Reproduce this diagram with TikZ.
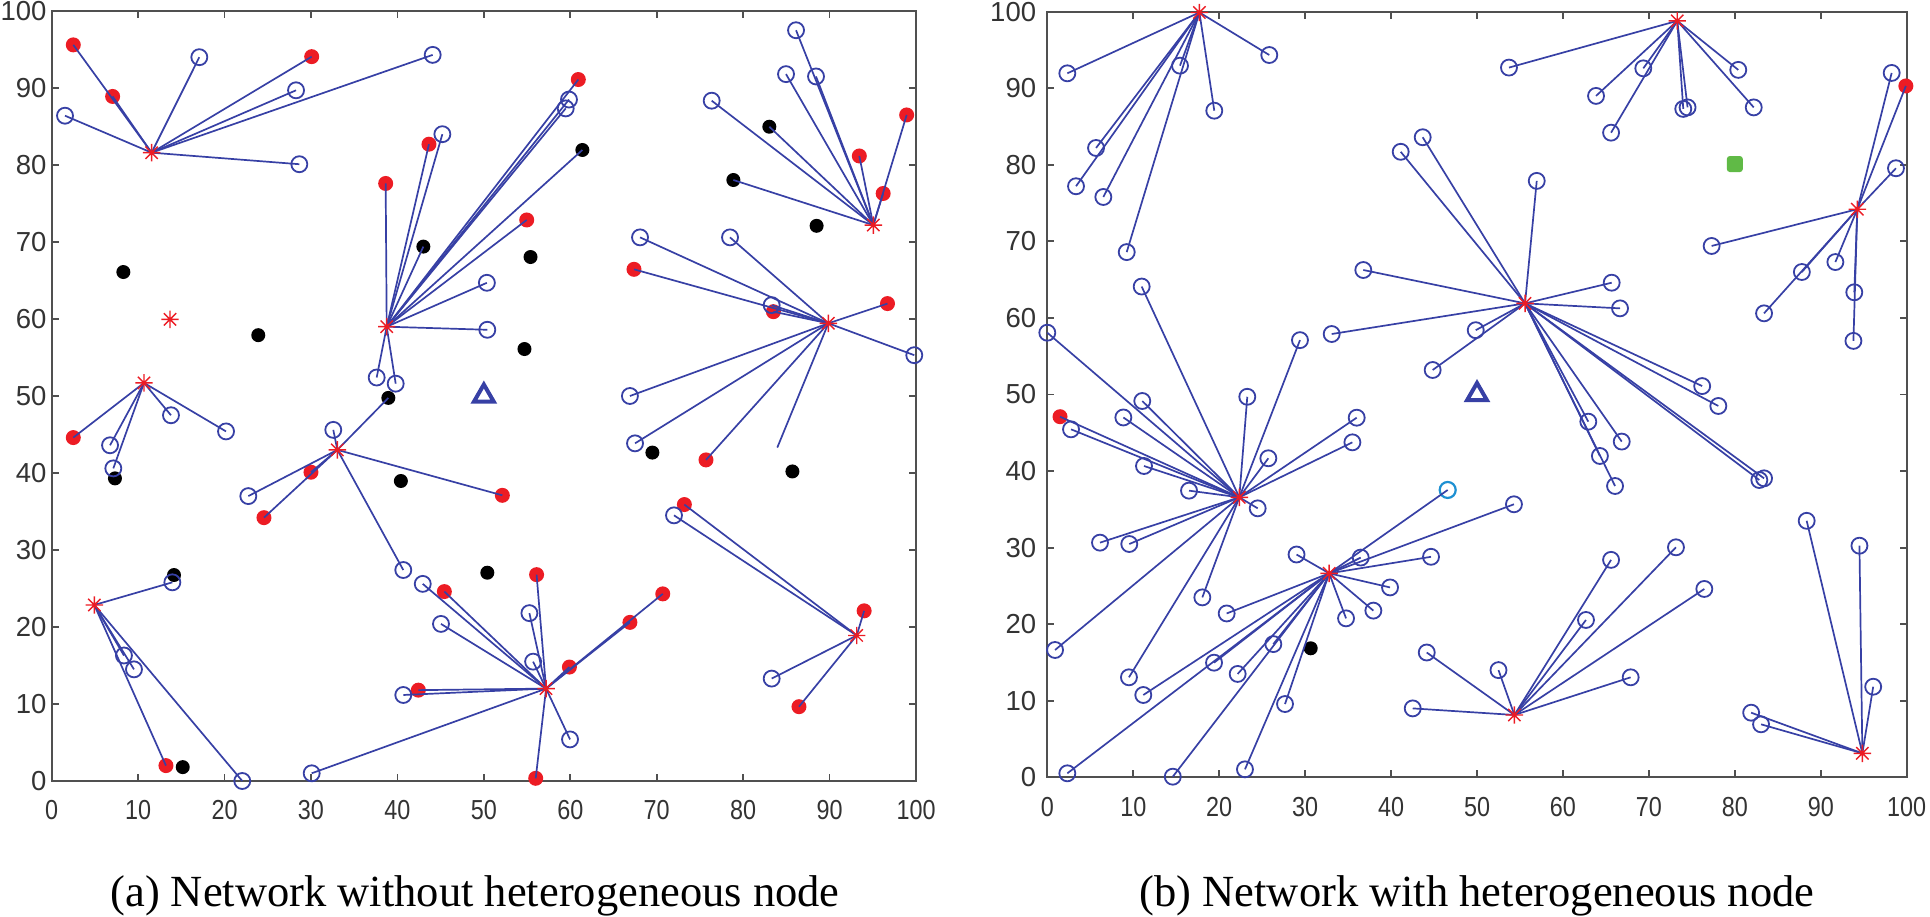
\documentclass[tikz,border=0pt]{standalone}
\usepackage{fontspec}
\setmainfont{Liberation Serif}
\newfontfamily\axfont{Liberation Sans}
\usetikzlibrary{shapes.geometric}
\definecolor{lnblue}{RGB}{55,64,165}
\definecolor{ptred}{RGB}{236,28,36}
\definecolor{gsqc}{RGB}{96,186,70}
\definecolor{lbluec}{RGB}{30,144,210}
\definecolor{axgray}{RGB}{80,80,80}
\newcommand\headmark[1]{\draw[hline] (#1.north)--(#1.south) (#1.east)--(#1.west) (#1.north east)--(#1.south west) (#1.north west)--(#1.south east);}
\newcommand\axesbox[2]{%
  \draw[frame] (0,0) rectangle (100,100);
  \foreach \t in {10,20,...,90} {
    \draw[frame] (\t,0) -- ++(0,7pt);
    \draw[frame] (\t,100) -- ++(0,-7pt);
    \draw[frame] (0,\t) -- ++(7pt,0);
    \draw[frame] (100,\t) -- ++(-7pt,0);
  }
  \foreach \t in {0,10,...,100} {
    \node[xlab] (#1x\t) at (\t,0) {\t};
    \node[ylab, xshift=-#2] (#1y\t) at (0,\t) {\t};
  }}
\begin{document}
\begin{tikzpicture}[x=1pt,y=1pt,
  link/.style={draw=lnblue, line width=1.7pt},
  ocirc/.style={circle, draw=lnblue, line width=1.8pt, minimum size=16pt, inner sep=0pt},
  rdot/.style={circle, fill=ptred, minimum size=15pt, inner sep=0pt},
  kdot/.style={circle, fill=black, minimum size=14pt, inner sep=0pt},
  hnode/.style={circle, minimum size=17pt, inner sep=0pt},
  hline/.style={draw=ptred, line width=1.4pt},
  trinode/.style={regular polygon, regular polygon sides=3, draw=lnblue, line width=4pt, minimum size=23pt, inner sep=0pt},
  gsq/.style={rectangle, fill=gsqc, minimum size=16pt, rounded corners=3pt, inner sep=0pt},
  lbc/.style={circle, draw=lbluec, line width=2.2pt, minimum size=16pt, inner sep=0pt},
  frame/.style={draw=axgray, line width=1.8pt},
  xlab/.style={font=\axfont\fontsize{27.5}{30}\selectfont, text=black!80, inner sep=0pt, yshift=-29.5pt, xscale=0.85},
  ylab/.style={font=\axfont\fontsize{27.5}{30}\selectfont, text=black!80, inner sep=0pt, anchor=east},
  captext/.style={font=\fontsize{44.5}{50}\selectfont, inner sep=0pt, anchor=base}
]
\useasboundingbox (0,0) rectangle (1930,916);

% ================= (a) =================
\begin{scope}[shift={(51.7pt,135pt)}, x=8.643pt, y=7.7pt]
\axesbox{a}{5pt}
% heads
\node[hnode] (aH1) at (11.56,81.6) {};
\node[hnode] (aH2) at (13.69,59.96) {};
\node[hnode] (aH3) at (10.68,51.7) {};
\node[hnode] (aH4) at (38.76,59.0) {};
\node[hnode] (aH5) at (95.06,72.2) {};
\node[hnode] (aH6) at (89.86,59.44) {};
\node[hnode] (aH7) at (33.05,43.0) {};
\node[hnode] (aH8) at (4.93,22.86) {};
\node[hnode] (aH9) at (57.2,12.0) {};
\node[hnode] (aH10) at (93.14,18.9) {};
% red dots
\foreach \n/\p in {1/{2.5,95.6},2/{7.05,88.9},3/{30.08,94.07},4/{38.64,77.6},5/{43.65,82.7},
  6/{60.93,91.1},7/{54.96,72.86},8/{98.92,86.5},9/{93.44,81.17},10/{96.2,76.3},
  11/{67.37,66.45},12/{83.5,60.95},13/{96.7,62.0},14/{75.7,41.7},15/{2.5,44.6},
  16/{30.0,40.1},17/{24.56,34.2},18/{52.14,37.1},19/{73.2,35.9},20/{94.0,22.1},
  21/{86.46,9.65},22/{45.43,24.6},23/{56.1,26.8},24/{70.7,24.3},25/{66.9,20.6},
  26/{59.9,14.8},27/{42.42,11.8},28/{56.0,0.35},29/{13.22,2.0}}
  \node[rdot] (ar\n) at (\p) {};
% black dots
\foreach \n/\p in {1/{8.29,66.1},2/{23.9,57.9},3/{43.0,69.4},4/{61.4,81.95},5/{55.4,68.05},
  6/{54.7,56.1},7/{38.95,49.75},8/{83.03,84.97},9/{78.87,78.05},10/{88.5,72.1},
  11/{7.32,39.3},12/{40.4,38.96},13/{69.5,42.65},14/{85.7,40.2},15/{14.15,26.75},
  16/{50.4,27.05},17/{15.16,1.8}}
  \node[kdot] (ak\n) at (\p) {};
% open circles
\foreach \n/\p in {1/{1.54,86.4},2/{17.08,94.0},3/{28.27,89.7},4/{44.08,94.3},5/{28.65,80.1},
  6/{45.2,84.0},7/{59.85,88.5},8/{59.47,87.35},9/{50.35,64.7},10/{50.4,58.6},
  11/{37.6,52.4},12/{39.8,51.6},13/{86.12,97.5},14/{84.96,91.8},15/{88.43,91.5},
  16/{76.36,88.35},17/{68.07,70.6},18/{78.48,70.6},19/{83.3,61.8},20/{99.8,55.3},
  21/{66.9,50.0},22/{67.49,43.85},23/{6.75,43.6},24/{7.13,40.6},25/{13.8,47.5},
  26/{20.17,45.4},27/{32.58,45.6},28/{22.75,37.0},29/{40.68,27.4},30/{72.0,34.5},
  31/{83.3,13.3},32/{13.96,25.8},33/{8.36,16.3},34/{9.52,14.5},35/{22.05,0.0},
  36/{42.93,25.6},37/{45.04,20.4},38/{40.68,11.17},39/{30.08,1.0},40/{55.27,21.8},
  41/{55.7,15.5},42/{59.97,5.4}}
  \node[ocirc] (ao\n) at (\p) {};
\coordinate (aend) at (83.95,43.3);
\node[trinode] (atri) at (50,50) {};
% links
\foreach \t in {ar1,ar2,ar3,ao1,ao2,ao3,ao4,ao5} \draw[link] (aH1.center) -- (\t.center);
\foreach \t in {ar15,ao23,ao24,ao25,ao26} \draw[link] (aH3.center) -- (\t.center);
\foreach \t in {ar4,ar5,ar6,ar7,ak3,ak4,ao6,ao7,ao8,ao9,ao10,ao11,ao12} \draw[link] (aH4.center) -- (\t.center);
\foreach \t in {ar8,ar9,ar10,ak8,ak9,ao13,ao14,ao15,ao16} \draw[link] (aH5.center) -- (\t.center);
\foreach \t in {ar11,ar12,ar13,ar14,ao17,ao18,ao19,ao20,ao21,ao22} \draw[link] (aH6.center) -- (\t.center);
\draw[link] (aH6.center) -- (aend);
\foreach \t in {ar16,ar17,ar18,ak7,ao27,ao28,ao29} \draw[link] (aH7.center) -- (\t.center);
\foreach \t in {ar29,ao32,ao33,ao34,ao35} \draw[link] (aH8.center) -- (\t.center);
\foreach \t in {ar22,ar23,ar24,ar25,ar26,ar27,ar28,ao36,ao37,ao38,ao39,ao40,ao41,ao42} \draw[link] (aH9.center) -- (\t.center);
\foreach \t in {ar19,ar20,ar21,ao30,ao31} \draw[link] (aH10.center) -- (\t.center);
\foreach \h in {aH1,aH2,aH3,aH4,aH5,aH6,aH7,aH8,aH9,aH10} {\headmark{\h}}
\end{scope}

% ================= (b) =================
\begin{scope}[shift={(1047.3pt,138.7pt)}, x=8.594pt, y=7.656pt]
\axesbox{b}{11pt}
\node[hnode] (bH1) at (17.7,99.9) {};
\node[hnode] (bH2) at (73.3,98.8) {};
\node[hnode] (bH3) at (94.25,74.2) {};
\node[hnode] (bH4) at (55.59,61.9) {};
\node[hnode] (bH5) at (22.34,36.57) {};
\node[hnode] (bH6) at (32.8,26.64) {};
\node[hnode] (bH7) at (54.35,8.14) {};
\node[hnode] (bH8) at (94.84,3.13) {};
\foreach \n/\p in {1/{2.33,91.95},2/{25.83,94.34},3/{15.44,92.95},4/{19.43,87.07},5/{5.67,82.2},
  6/{3.34,77.2},7/{6.52,75.8},8/{9.24,68.6},
  9/{53.72,92.7},10/{63.85,89.0},11/{69.35,92.6},12/{65.6,84.2},13/{74.0,87.3},
  14/{74.5,87.5},15/{80.4,92.4},16/{82.2,87.5},
  17/{98.25,92.0},18/{98.75,79.55},19/{77.3,69.4},20/{91.7,67.3},21/{87.8,66.0},
  22/{93.9,63.35},23/{83.4,60.6},24/{93.8,57.0},
  25/{56.95,77.9},26/{65.67,64.6},27/{66.64,61.25},28/{49.85,58.4},29/{44.84,53.2},
  30/{76.2,51.1},31/{78.08,48.5},32/{62.95,46.45},33/{66.84,43.85},34/{64.3,41.97},
  35/{66.06,38.05},36/{82.85,38.83},37/{83.4,39.05},38/{43.68,83.6},39/{41.12,81.7},
  40/{36.77,66.26},41/{33.09,57.9},
  42/{2.76,45.45},43/{8.85,47.0},44/{11.05,49.15},45/{23.27,49.7},46/{11.25,40.66},
  47/{16.49,37.44},48/{25.72,41.67},49/{36.0,46.97},50/{35.5,43.75},51/{24.48,35.13},
  52/{6.13,30.65},53/{9.54,30.47},54/{0.9,16.63},55/{18.04,23.5},56/{9.5,13.06},
  57/{0.0,58.07},58/{10.98,64.1},59/{29.4,57.1},
  60/{29.0,29.1},61/{36.47,28.7},62/{44.65,28.8},63/{54.3,35.66},64/{39.88,24.8},
  65/{37.94,21.77},66/{34.76,20.76},67/{20.87,21.4},68/{26.3,17.4},69/{19.4,14.97},
  70/{22.15,13.5},71/{11.17,10.75},72/{27.66,9.57},73/{2.33,0.52},74/{14.6,0.08},
  75/{23.0,1.04},
  76/{52.5,14.0},77/{65.6,28.4},78/{62.68,20.55},79/{73.15,30.04},80/{76.45,24.6},
  81/{67.88,13.06},82/{44.15,16.3},83/{42.52,9.0},
  84/{88.36,33.5},85/{94.5,30.25},86/{96.1,11.83},87/{81.9,8.44},88/{83.05,6.92}}
  \node[ocirc] (bo\n) at (\p) {};
\node[rdot] (br1) at (99.9,90.3) {};
\node[rdot] (br2) at (1.48,47.1) {};
\node[kdot] (bk1) at (30.65,16.85) {};
\node[gsq] (bg) at (80,80.1) {};
\node[lbc] (bc) at (46.59,37.53) {};
\node[trinode] (btri) at (50,50) {};
\foreach \i in {1,...,8} \draw[link] (bH1.center) -- (bo\i.center);
\foreach \i in {9,...,16} \draw[link] (bH2.center) -- (bo\i.center);
\foreach \i in {17,...,24} \draw[link] (bH3.center) -- (bo\i.center);
\draw[link] (bH3.center) -- (br1.center);
\foreach \i in {25,...,41} \draw[link] (bH4.center) -- (bo\i.center);
\foreach \i in {42,...,59} \draw[link] (bH5.center) -- (bo\i.center);
\draw[link] (bH5.center) -- (br2.center);
\foreach \i in {60,...,75} \draw[link] (bH6.center) -- (bo\i.center);
\draw[link] (bH6.center) -- (bc.center);
\foreach \i in {76,...,83} \draw[link] (bH7.center) -- (bo\i.center);
\foreach \i in {84,...,88} \draw[link] (bH8.center) -- (bo\i.center);
\foreach \h in {bH1,bH2,bH3,bH4,bH5,bH6,bH7,bH8} {\headmark{\h}}
\end{scope}

\node[captext] (capa) at (475,9.3) {(a) Network without heterogeneous node};
\node[captext] (capb) at (1477,9.3) {(b) Network with heterogeneous node};
\end{tikzpicture}
\end{document}
